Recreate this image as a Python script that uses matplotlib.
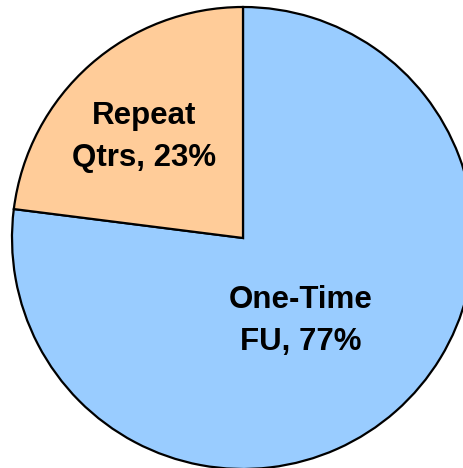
import matplotlib.pyplot as plt

# --- data ---
categories = ["One-Time\nFU", "Repeat\nQtrs"]
shares = [77, 23]
colors = ["#99CCFF", "#FFCC99"]

# label layout (pixel coords, y measured from top)
LABEL_POS = [(301, 321), (144, 137)]

W, H = 464, 468
fig = plt.figure(figsize=(W / 100, H / 100), dpi=100)
ax = fig.add_axes([0, 0, 1, 1])

ax.pie(shares, colors=colors, startangle=90, counterclock=False,
       center=(243, H - 238), radius=231, frame=True,
       wedgeprops=dict(edgecolor="black", linewidth=1.6))
ax.set_xlim(0, W)
ax.set_ylim(0, H)
ax.axis("off")

for cat, val, (x, y) in zip(categories, shares, LABEL_POS):
    ax.text(x, H - y, f"{cat}, {val}%", ha="center", va="center",
            fontsize=22.5, fontweight="bold", family="Liberation Sans",
            linespacing=1.55)

fig.savefig("out.png", dpi=100)
